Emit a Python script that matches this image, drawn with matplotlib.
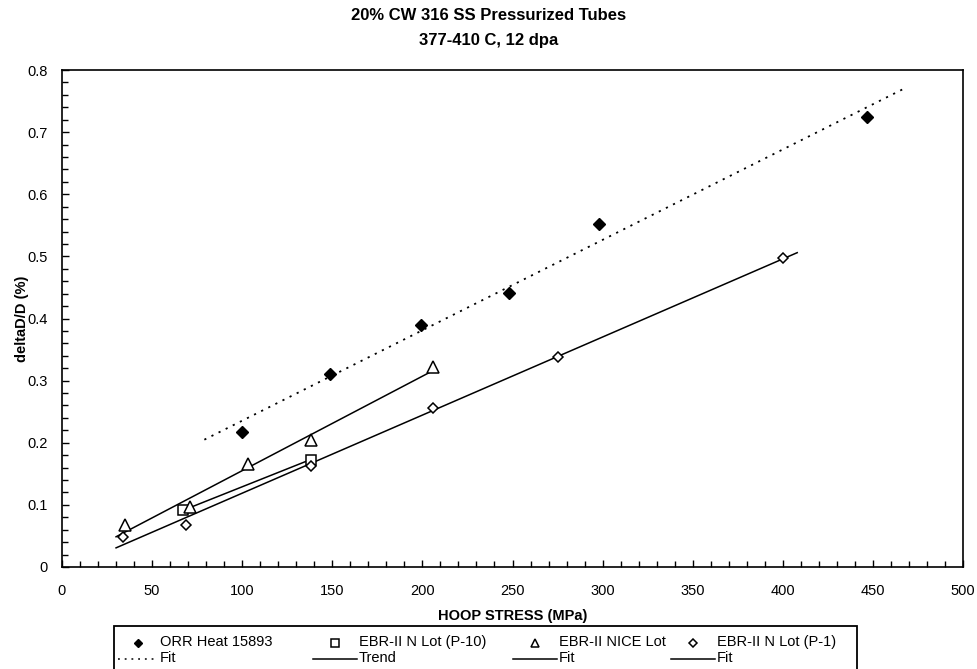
import numpy as np
import matplotlib
matplotlib.use("Agg")
import matplotlib.pyplot as plt
from matplotlib.ticker import MultipleLocator, FuncFormatter
from matplotlib.lines import Line2D
from matplotlib.patches import Rectangle

plt.rcParams['font.family'] = ['Liberation Sans', 'DejaVu Sans']

W, H = 977, 669

# ORR Heat 15893 (filled diamonds, dotted fit)
orr_stress = [100, 149, 199, 248, 298, 447]
orr_dd = [0.218, 0.311, 0.390, 0.441, 0.552, 0.725]
orr_fit_range = [79, 467]

# EBR-II N Lot (P-10) (open squares, trend)
p10_stress = [67, 138]
p10_dd = [0.091, 0.173]

# EBR-II NICE Lot (open triangles, fit)
nice_stress = [35, 71, 103, 138, 206]
nice_dd = [0.067, 0.097, 0.166, 0.204, 0.322]
nice_fit_range = [30, 204]

# EBR-II N Lot (P-1) (open diamonds, fit)
p1_stress = [34, 69, 138, 206, 275, 400]
p1_dd = [0.048, 0.068, 0.162, 0.256, 0.338, 0.497]
p1_fit_range = [30, 408]

series_names = ['ORR Heat 15893', 'EBR-II N Lot (P-10)', 'EBR-II NICE Lot', 'EBR-II N Lot (P-1)']
line_names = ['Fit', 'Trend', 'Fit', 'Fit']

DOTTED = (0, (1.2, 3.2))


def linear_fit(x, y, xr):
    k, b = np.polyfit(x, y, 1)
    xs = np.array(xr, dtype=float)
    return xs, k * xs + b


fig = plt.figure(figsize=(W / 100, H / 100), dpi=100)
ax = fig.add_axes([62 / W, 1 - 567 / H, (963 - 62) / W, (567 - 70) / H])

# fit lines
fx, fy = linear_fit(orr_stress, orr_dd, orr_fit_range)
ax.plot(fx, fy, color='black', lw=1.3, ls=DOTTED)
ax.plot(p10_stress, p10_dd, color='black', lw=1.1)
fx, fy = linear_fit(nice_stress, nice_dd, nice_fit_range)
ax.plot(fx, fy, color='black', lw=1.1)
fx, fy = linear_fit(p1_stress, p1_dd, p1_fit_range)
ax.plot(fx, fy, color='black', lw=1.1)

# data points
marker_styles = [
    dict(marker='D', ms=6, mfc='black', mec='black', mew=1.0),
    dict(marker='s', ms=7.5, mfc='white', mec='black', mew=1.1),
    dict(marker='^', ms=8, mfc='white', mec='black', mew=1.1),
    dict(marker='D', ms=5.5, mfc='white', mec='black', mew=1.1),
]
for xs, ys, st in zip([orr_stress, p10_stress, nice_stress, p1_stress],
                      [orr_dd, p10_dd, nice_dd, p1_dd], marker_styles):
    ax.plot(xs, ys, ls='none', **st)

ax.set_xlim(0, 500)
ax.set_ylim(0, 0.8)
ax.xaxis.set_major_locator(MultipleLocator(50))
ax.xaxis.set_minor_locator(MultipleLocator(10))
ax.yaxis.set_major_locator(MultipleLocator(0.1))
ax.yaxis.set_minor_locator(MultipleLocator(0.02))
ax.yaxis.set_major_formatter(FuncFormatter(lambda v, p: '0' if abs(v) < 1e-9 else '%.1f' % v))
ax.tick_params(which='both', direction='in', top=False, right=False, labelsize=10.5, colors='black')
ax.tick_params(which='major', length=5, width=1, pad=12)
ax.tick_params(which='minor', length=4, width=1)
ax.tick_params(axis='y', which='major', pad=10)
for s in ax.spines.values():
    s.set_linewidth(1.2)

ax.set_xlabel('HOOP STRESS (MPa)', fontsize=10.5, fontweight='bold', labelpad=8)
ax.set_ylabel('deltaD/D (%)', fontsize=10.5, fontweight='bold', labelpad=-1)

fig.text(0.5, 1 - 16 / H, '20% CW 316 SS Pressurized Tubes', ha='center', va='center',
         fontsize=12, fontweight='bold')
fig.text(0.5, 1 - 41 / H, '377-410 C, 12 dpa', ha='center', va='center',
         fontsize=12, fontweight='bold')

# legend box along the bottom: marker on the top row, line on the row below
fig.add_artist(Rectangle((114 / W, -0.05), (857 - 114) / W, 0.05 + 1 - 626 / H,
                         transform=fig.transFigure, fill=False, ec='black', lw=1.3))
text_x = [160, 359, 559, 717]
handle_len = [40, 44, 44, 44]
line_styles = [DOTTED, '-', '-', '-']
row1, row2 = 642, 658
for i in range(4):
    x1 = text_x[i] - 2
    x0 = x1 - handle_len[i]
    st = dict(marker_styles[i])
    st['ms'] = st['ms'] * 0.75
    fig.add_artist(Line2D([(x0 + x1) / 2 / W], [1 - (row1 + 1) / H], transform=fig.transFigure,
                          ls='none', **st))
    fig.add_artist(Line2D([x0 / W, x1 / W], [1 - (row2 + 1) / H] * 2, transform=fig.transFigure,
                          color='black', lw=1.1, ls=line_styles[i]))
    fig.text(text_x[i] / W, 1 - row1 / H, series_names[i], ha='left', va='center', fontsize=10.5)
    fig.text(text_x[i] / W, 1 - row2 / H, line_names[i], ha='left', va='center', fontsize=10.5)

fig.savefig('out.png', dpi=100)
